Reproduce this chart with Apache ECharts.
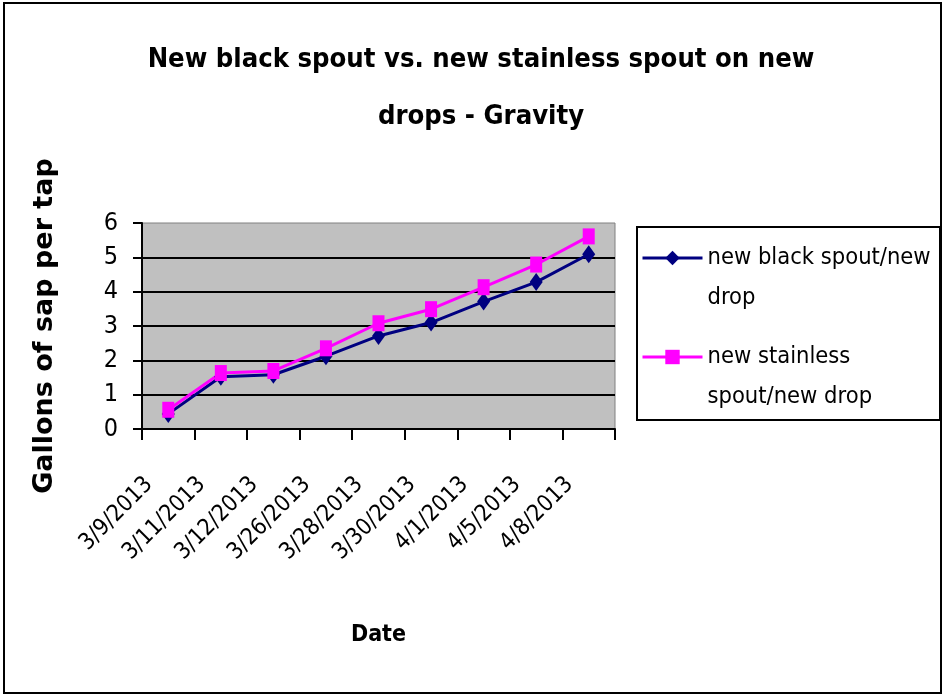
<!DOCTYPE html>
<html>
<head>
<meta charset="utf-8">
<script src="https://cdn.jsdelivr.net/npm/echarts@6/dist/echarts.min.js"></script>
<style>
html,body{margin:0;padding:0;background:#fff;}
#chart{width:943px;height:696px;}
</style>
</head>
<body>
<div id="chart"></div>
<script>
var titleText = 'New black spout vs. new stainless spout on new\ndrops - Gravity';
var xAxisName = 'Date';
var yAxisName = 'Gallons of sap per tap';
var categories = ['3/9/2013','3/11/2013','3/12/2013','3/26/2013','3/28/2013','3/30/2013','4/1/2013','4/5/2013','4/8/2013'];
var seriesNames = ['new black spout/new drop','new stainless spout/new drop'];
var legendLabels = ['new black spout/new\ndrop','new stainless\nspout/new drop'];
var blackSpout = [0.44, 1.52, 1.58, 2.12, 2.71, 3.10, 3.71, 4.28, 5.09];
var stainlessSpout = [0.56, 1.63, 1.69, 2.35, 3.08, 3.49, 4.13, 4.79, 5.61];
var yMin = 0, yMax = 6, yInterval = 1;

var NARROW = '"Liberation Sans Narrow","DejaVu Sans Condensed","Arial Narrow",sans-serif';

var chart = echarts.init(document.getElementById('chart'), null, {renderer:'canvas'});
chart.setOption({
  backgroundColor:'#ffffff',
  animation:false,
  title:{
    text:titleText,
    left:476, top:26, textAlign:'center',
    textStyle:{fontFamily:NARROW, fontWeight:'bold', fontSize:27.2, lineHeight:57, color:'#000'}
  },
  graphic:[
    {type:'rect', shape:{x:4,y:3,width:937,height:690}, style:{fill:'none',stroke:'#000',lineWidth:2}, silent:true},
    {type:'rect', shape:{x:637,y:227,width:303,height:193}, style:{fill:'#fff',stroke:'#000',lineWidth:2}, silent:true}
  ],
  legend:{
    orient:'vertical',
    left:641, top:198,
    padding:0,
    itemGap:-21,
    itemWidth:60, itemHeight:18,
    data:seriesNames,
    formatter:function(name){ return '\n' + legendLabels[seriesNames.indexOf(name)]; },
    lineStyle:{width:3},
    textStyle:{fontFamily:NARROW, fontSize:23.5, lineHeight:40, color:'#000'}
  },
  grid:{
    left:142, right:328, top:223, bottom:267,
    show:true, backgroundColor:'#C0C0C0', borderColor:'#808080', borderWidth:1
  },
  xAxis:{
    type:'category',
    data:categories,
    boundaryGap:true,
    name:xAxisName,
    nameLocation:'middle',
    nameGap:195,
    nameTextStyle:{fontFamily:NARROW, fontWeight:'bold', fontSize:23, color:'#000'},
    axisLine:{show:true, lineStyle:{color:'#000', width:2}},
    axisTick:{show:true, alignWithLabel:false, length:11, lineStyle:{color:'#000', width:2}},
    axisLabel:{rotate:45, interval:0, margin:33, padding:[0,27,0,0], fontFamily:NARROW, fontSize:23, color:'#000'},
    splitLine:{show:false}
  },
  yAxis:{
    type:'value',
    min:yMin, max:yMax, interval:yInterval,
    name:yAxisName,
    nameLocation:'middle',
    nameGap:84,
    nameTextStyle:{fontFamily:'"DejaVu Sans",sans-serif', fontWeight:'bold', fontSize:27, color:'#000'},
    axisLine:{show:true, lineStyle:{color:'#000', width:2}},
    axisTick:{show:true, length:9, lineStyle:{color:'#000', width:2}},
    axisLabel:{margin:24, fontFamily:NARROW, fontSize:25, color:'#000'},
    splitLine:{show:true, showMaxLine:false, lineStyle:{color:'#000', width:2}}
  },
  series:[
    {
      name:seriesNames[0], type:'line', data:blackSpout,
      symbol:'diamond', symbolSize:[13,18],
      itemStyle:{color:'#000080'},
      lineStyle:{color:'#000080', width:3}
    },
    {
      name:seriesNames[1], type:'line', data:stainlessSpout,
      symbol:'rect', symbolSize:[12,16],
      itemStyle:{color:'#FF00FF'},
      lineStyle:{color:'#FF00FF', width:3}
    }
  ]
});
</script>
</body>
</html>
